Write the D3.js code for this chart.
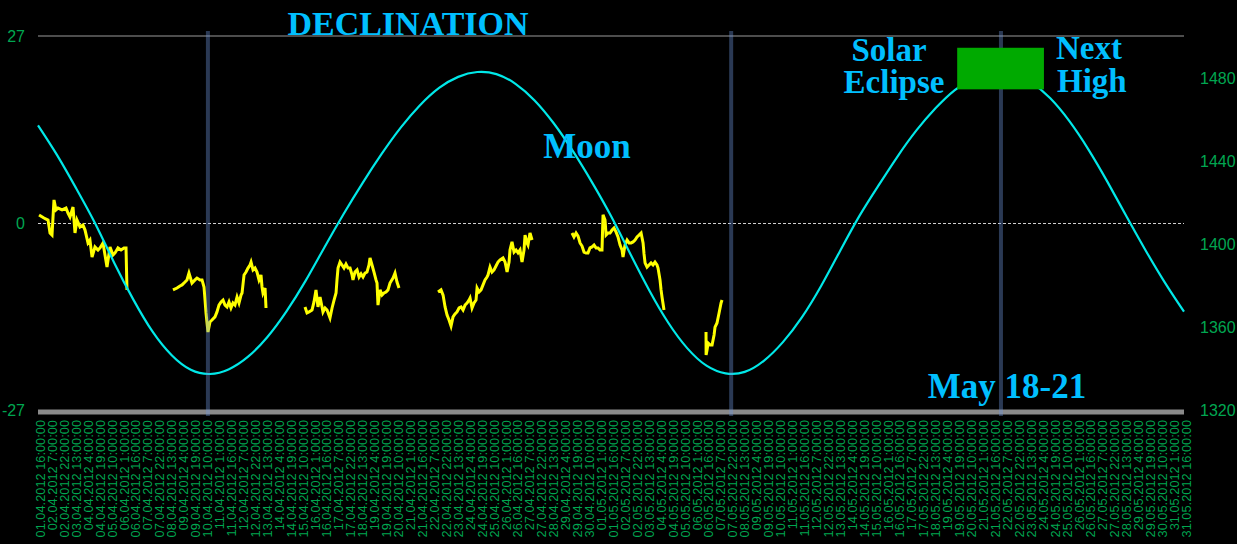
<!DOCTYPE html>
<html>
<head>
<meta charset="utf-8">
<script src="https://cdn.jsdelivr.net/npm/d3@7"></script>
<style>
  html, body { margin: 0; padding: 0; background: #000; }
  svg { display: block; }
</style>
</head>
<body>
<svg id="chart" width="1237" height="544"></svg>
<script>
// ---------------- DATA ----------------
// Start of the chart: 01.04.2012 16:00:00, end 31.05.2012 16:00:00 (UTC used to avoid DST)
const startDate = "2012-04-01T16:00:00Z";
const endDate = "2012-05-31T16:00:00Z";
const tickStepHours = 15;

// Moon declination (degrees), one value per day starting at 01.04.2012 16:00
const declination = [14.1, 9.8, 5.0, -0.1, -5.8, -11.1, -15.7, -19.1, -21.2, -21.8,
  -21.1, -19.3, -16.5, -12.8, -8.4, -3.5, 1.3, 5.8, 10.0, 13.8,
  17.0, 19.5, 21.1, 21.8, 21.5, 20.1, 17.7, 14.4, 10.4, 5.9,
  1.0, -4.4, -9.7, -14.4, -18.1, -20.6, -21.7, -21.5, -19.9, -17.2,
  -13.6, -9.1, -4.0, 1.0, 5.4, 9.6, 13.4, 16.6, 19.2, 20.9,
  21.7, 21.6, 20.3, 18.0, 14.7, 10.6, 5.9, 0.9, -4.0, -8.6, -12.8];

// Price segments: [hours since start, price]
const priceWeek1 = [[1.3,1413.9],[7.5,1412.4],[12.6,1411.4],[15.1,1405.2],[17.6,1404.2],[20.1,1421.1],[22.6,1416.3],[25.1,1417.2],[30.2,1416.3],[35.2,1417.2],[37.7,1414.8],[40.2,1412.9],[44,1417.7],[46.5,1405.2],[49,1411.4],[52.8,1408.1],[56.5,1409],[59.1,1406.6],[62.8,1400.4],[65.3,1401.8],[67.9,1393.6],[71.6,1398.5],[75.4,1397.0],[77.9,1398.0],[81.7,1400.4],[84.2,1394.6],[86.7,1388.8],[90.5,1398.5],[94.2,1394.6],[96.8,1395.6],[100.5,1398.0],[104.3,1397.0],[108.1,1398.0],[110.6,1398.0],[111.8,1377.8]];
const priceWeek2 = [[169.6,1377.8],[174.7,1378.7],[178.4,1379.7],[181,1380.2],[184.7,1381.6],[187.2,1382.6],[189.7,1385.9],[193.5,1381.1],[197.3,1382.6],[199.8,1383.5],[203.6,1382.6],[206.1,1382.6],[208.6,1379.2],[209.9,1372.9],[211.1,1366.7],[213.6,1357.5],[216.1,1362.4],[218.6,1363.3],[222.4,1364.8],[224.9,1367.2],[227.4,1370.5],[230,1372.0],[232.5,1372.9],[235,1370.5],[237.5,1369.6],[240,1372.0],[242.5,1369.1],[245,1371.5],[247.5,1370.5],[250.1,1374.4],[252.6,1371.5],[255.1,1375.3],[256.4,1376.3],[258.9,1385.0],[261.4,1386.4],[263.9,1388.3],[266.4,1389.8],[267.7,1391.2],[270.2,1387.4],[272.7,1388.3],[275.2,1386.4],[277.7,1382.6],[280.2,1385.0],[281.5,1379.2],[282.7,1376.3],[285.3,1378.7],[286.5,1369.1]];
const priceWeek3 = [[335.5,1369.6],[338,1366.7],[340.5,1367.2],[344.3,1368.1],[346.8,1372.0],[349.3,1377.8],[351.8,1369.6],[354.4,1374.4],[356.9,1369.6],[358.1,1367.2],[360.7,1369.1],[363.2,1368.1],[366.9,1364.3],[369.5,1369.1],[372,1372.9],[374.5,1376.3],[375.7,1382.6],[377,1388.3],[379.5,1391.2],[382,1389.8],[384.5,1388.3],[387,1390.2],[389.6,1388.3],[392.1,1388.3],[394.6,1385.0],[395.8,1382.6],[398.3,1386.4],[400.9,1387.4],[403.4,1384.0],[405.9,1385.5],[408.4,1384.0],[410.9,1385.9],[413.4,1386.4],[415.9,1389.8],[417.2,1393.2],[419.7,1389.8],[422.2,1386.4],[424.7,1382.6],[426,1381.1],[427.2,1370.5],[429.8,1377.8],[432.3,1375.3],[434.8,1376.3],[437.3,1376.8],[439.8,1377.8],[442.3,1381.1],[446.1,1383.5],[448.6,1385.9],[451.1,1381.6],[453.6,1378.7]];
const priceWeek4 = [[502.6,1376.8],[506.4,1377.8],[509,1375.3],[511.5,1369.6],[514,1365.7],[516.5,1363.3],[519,1360.4],[521.5,1364.8],[524,1366.2],[526.5,1367.2],[529.1,1369.1],[531.6,1369.6],[534.1,1368.1],[536.6,1370.5],[539.1,1371.5],[541.6,1372.9],[542.9,1373.9],[545.4,1369.1],[547.9,1371.5],[550.4,1372.9],[551.7,1378.7],[554.2,1376.8],[556.7,1377.8],[559.2,1380.2],[561.7,1382.6],[564.2,1384.0],[565.5,1385.0],[568,1388.8],[570.5,1386.4],[573,1387.4],[575.5,1389.3],[578,1391.2],[580.6,1392.2],[584.3,1393.2],[586.9,1391.2],[589.4,1386.4],[591.9,1391.2],[593.1,1397.0],[595.6,1400.9],[598.2,1396.0],[600.7,1397.0],[603.2,1395.6],[605.7,1397.0],[608.2,1391.2],[610.7,1397.0],[612,1404.2],[614.5,1400.4],[615.7,1399.4],[618.2,1405.2],[620.8,1401.8]];
const priceWeek5 = [[671,1405.2],[673.5,1403.3],[676.1,1405.2],[678.6,1403.7],[681.1,1400.4],[683.6,1398.9],[686.1,1396.0],[688.6,1395.6],[691.1,1395.6],[693.6,1398.0],[696.2,1398.5],[698.7,1399.4],[701.2,1398.0],[703.7,1398.0],[706.2,1397.0],[708.7,1397.0],[710,1413.9],[712.5,1411.4],[713.8,1404.2],[716.3,1405.2],[718.8,1405.2],[721.3,1406.6],[723.8,1407.6],[726.3,1405.7],[728.8,1403.3],[731.4,1399.4],[733.9,1397.0],[735.1,1393.6],[737.6,1399.4],[740.2,1401.8],[742.7,1400.4],[745.2,1400.4],[747.7,1400.9],[750.2,1401.8],[752.7,1403.3],[755.2,1404.2],[757.8,1405.2],[760.3,1400.4],[761.5,1395.1],[762.8,1390.8],[765.3,1388.8],[767.8,1389.8],[770.3,1390.8],[772.8,1389.8],[775.3,1391.2],[777.8,1389.8],[779.1,1388.3],[781.6,1382.6],[782.9,1377.8],[784.1,1374.4],[786.6,1368.1]];
const priceWeek6 = [[839.4,1357.5],[839.5,1346.5],[840.7,1348.9],[842,1352.2],[844.5,1351.3],[847,1351.3],[849.5,1356.1],[850.7,1359.9],[853.2,1361.9],[855.8,1366.7],[858.3,1371.5],[859.5,1372.9]];

// Event lines (vertical markers)
const eventDates = ["2012-04-10T13:30:00Z", "2012-05-07T23:00:00Z", "2012-05-22T02:00:00Z"];
// Highlight box (solar eclipse → next high), in declination units
const boxDates = ["2012-05-19T19:00:00Z", "2012-05-24T08:00:00Z"];
const boxDecl = [19.3, 25.3];

const leftTicks = [-27, 0, 27];
const rightTicks = [1320, 1360, 1400, 1440, 1480];

// ---------------- LAYOUT ----------------
const W = 1237, H = 544;
const plotL = 38, plotR = 1184, plotT = 36, plotB = 410;
const green = "#00a651";
const annoColor = "#00bfff";

const svg = d3.select("#chart");
svg.append("rect").attr("width", W).attr("height", H).attr("fill", "#000");

const t0 = new Date(startDate), t1 = new Date(endDate);
const hourToDate = h => new Date(t0.getTime() + h * 3600e3);

const x = d3.scaleUtc().domain([t0, t1]).range([plotL, plotR]);
const yL = d3.scaleLinear().domain([-27, 27]).range([plotB, plotT]);
const yR = d3.scaleLinear().domain([1320, 1500]).range([plotB, plotT]);

// top border line
svg.append("line").attr("x1", x(t0)).attr("x2", x(t1))
  .attr("y1", yL(27)).attr("y2", yL(27))
  .attr("stroke", "#9a9a9a").attr("stroke-width", 1);

// zero dashed line
svg.append("line").attr("x1", x(t0)).attr("x2", x(t1))
  .attr("y1", Math.round(yL(0)) + 0.5).attr("y2", Math.round(yL(0)) + 0.5)
  .attr("stroke", "#d0d0d0").attr("stroke-width", 1).attr("stroke-dasharray", "3,2");

// price segments (yellow)
const priceLine = d3.line().x(d => x(hourToDate(d[0]))).y(d => yR(d[1]));
[priceWeek1, priceWeek2, priceWeek3, priceWeek4, priceWeek5, priceWeek6].forEach(seg => {
  svg.append("path").datum(seg).attr("d", priceLine)
    .attr("fill", "none").attr("stroke", "#ffff00").attr("stroke-width", 3)
    .attr("stroke-linejoin", "miter");
});

// declination curve (cyan)
const declLine = d3.line()
  .x((d, i) => x(hourToDate(i * 24)))
  .y(d => yL(d))
  .curve(d3.curveNatural);
svg.append("path").datum(declination).attr("d", declLine)
  .attr("fill", "none").attr("stroke", "#00e8e8").attr("stroke-width", 2.2);

// bottom thick gray bar
svg.append("line").attr("x1", x(t0)).attr("x2", x(t1))
  .attr("y1", plotB + 2).attr("y2", plotB + 2)
  .attr("stroke", "#8a8a8a").attr("stroke-width", 5);

// vertical event lines
eventDates.forEach(d => {
  const xx = x(new Date(d));
  svg.append("line").attr("x1", xx).attr("x2", xx)
    .attr("y1", 31).attr("y2", 416)
    .attr("stroke", "rgb(110,150,220)").attr("stroke-opacity", 0.38).attr("stroke-width", 4);
});

// green box
svg.append("rect")
  .attr("x", x(new Date(boxDates[0])))
  .attr("y", yL(boxDecl[1]))
  .attr("width", x(new Date(boxDates[1])) - x(new Date(boxDates[0])))
  .attr("height", yL(boxDecl[0]) - yL(boxDecl[1]))
  .attr("fill", "#00aa00");

// left axis
const axL = svg.append("g").attr("transform", `translate(${plotL - 13},0)`)
  .call(d3.axisLeft(yL).tickValues(leftTicks).tickSize(0).tickPadding(0).tickFormat(d => String(d)));
axL.select(".domain").remove();
axL.selectAll("text").attr("fill", green).attr("font-family", "Liberation Sans, Arial, sans-serif")
  .attr("font-size", 16).attr("dy", "0.35em");

// right axis
const axR = svg.append("g").attr("transform", `translate(1200,0)`)
  .call(d3.axisRight(yR).tickValues(rightTicks).tickSize(0).tickPadding(0).tickFormat(d => String(d)));
axR.select(".domain").remove();
axR.selectAll("text").attr("fill", green).attr("font-family", "Liberation Sans, Arial, sans-serif")
  .attr("font-size", 16).attr("dy", "0.35em");

// bottom axis: labels every 15 hours
const tickDates = d3.range(0, 1440 + 1, tickStepHours).map(hourToDate);
const axB = svg.append("g").attr("transform", `translate(0,418)`)
  .call(d3.axisBottom(x).tickValues(tickDates).tickSize(0).tickFormat(d3.utcFormat("%d.%m.%Y %-H:%M:%S")));
axB.select(".domain").remove();
axB.selectAll("text")
  .attr("fill", green)
  .attr("font-family", "Liberation Sans, Arial, sans-serif")
  .attr("font-size", 12.8)
  .attr("transform", "rotate(-90)")
  .attr("text-anchor", "end")
  .attr("x", -2).attr("y", 2).attr("dy", "0.35em");

// annotations
const serif = "Liberation Serif, Times New Roman, serif";
function anno(txt, xx, yy, anchor, size) {
  svg.append("text").text(txt).attr("x", xx).attr("y", yy)
    .attr("text-anchor", anchor || "start")
    .attr("font-family", serif).attr("font-weight", "bold")
    .attr("font-size", size || 34).attr("fill", annoColor);
}
anno("DECLINATION", 408, 35, "middle", 34);
anno("Moon", 587, 158, "middle", 35);
anno("Solar", 889, 61, "middle", 33);
anno("Eclipse", 894, 93, "middle", 33);
anno("Next", 1056, 59, "start", 33);
anno("High", 1057, 92, "start", 33);
anno("May 18-21", 1007, 398, "middle", 35);
</script>
</body>
</html>
